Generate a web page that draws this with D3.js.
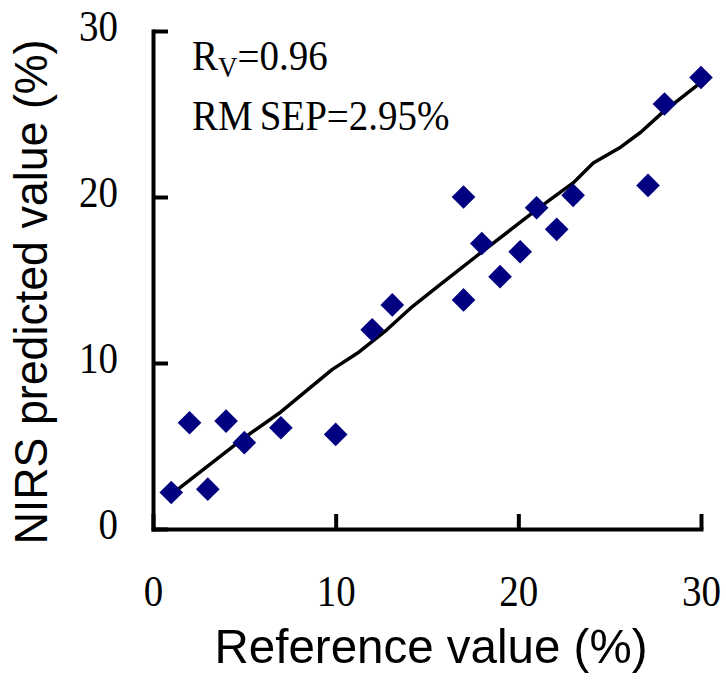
<!DOCTYPE html>
<html>
<head>
<meta charset="utf-8">
<script src="https://cdn.jsdelivr.net/npm/d3@7"></script>
<style>
body { margin: 0; background: #fff; }
.serif { font-family: "Times New Roman", "Liberation Serif", serif; }
.sans { font-family: Arial, "Liberation Sans", sans-serif; }
</style>
</head>
<body>
<svg width="726" height="687"></svg>
<script>
// measured points (reference %, NIRS predicted %)
let refX = [1, 2, 3, 4, 5, 7, 10, 12, 13.1, 17, 17, 18, 19, 20.1, 21, 22.1, 23, 27.1, 28, 30];
let predY = [2.2, 6.4, 2.4, 6.5, 5.2, 6.1, 5.7, 12, 13.5, 20, 13.8, 17.2, 15.2, 16.7, 19.35, 18.05, 20.1, 20.7, 25.6, 27.2];

// fitted line
let fitX = [0.9, 5.0, 7.0, 9.8, 11.2, 12.8, 14.2, 15.7, 17.9, 19.9, 21.2, 23.0, 24.1, 25.6, 26.7, 27.9, 30.0];
let fitY = [2.0, 5.5, 7.05, 9.6, 10.6, 12.0, 13.4, 14.7, 16.6, 18.3, 19.4, 20.85, 22.05, 23.0, 23.9, 25.1, 26.9];

let xTicks = [0, 10, 20, 30];
let yTicks = [0, 10, 20, 30];

let svg = d3.select("svg");

let x = d3.scaleLinear().domain([0, 30]).range([153, 701]);
let y = d3.scaleLinear().domain([0, 30]).range([529, 31]);

// axes, ticks pointing inward
let xAxis = svg.append("g")
    .attr("transform", "translate(0," + y(0) + ")")
    .call(d3.axisBottom(x).tickValues(xTicks).tickSizeInner(-15).tickSizeOuter(0).tickFormat(d3.format("d")));
let yAxis = svg.append("g")
    .attr("transform", "translate(" + x(0) + ",0)")
    .call(d3.axisLeft(y).tickValues(yTicks).tickSizeInner(-15).tickSizeOuter(0).tickFormat(d3.format("d")));

[xAxis, yAxis].forEach(function(ax) {
    ax.select(".domain").attr("stroke", "#000").attr("stroke-width", 4).attr("stroke-linecap", "square");
    ax.selectAll(".tick line").attr("stroke", "#000").attr("stroke-width", 4);
    ax.selectAll(".tick text")
        .attr("class", "serif")
        .attr("font-size", 39)
        .attr("fill", "#000")
        .attr("dy", null)
        .attr("x", 0).attr("y", 0);
});

xAxis.selectAll(".tick text")
    .attr("text-anchor", "middle")
    .attr("transform", "translate(0,77) scale(1,1.15)");
yAxis.selectAll(".tick text")
    .attr("text-anchor", "end")
    .attr("transform", "translate(-35,9) scale(1,1.15)");

// fitted line
let line = d3.line()
    .x(function(d, i) { return x(fitX[i]); })
    .y(function(d, i) { return y(fitY[i]); });

svg.append("path")
    .datum(fitX)
    .attr("d", line)
    .attr("fill", "none")
    .attr("stroke", "#000")
    .attr("stroke-width", 3.5)
    .attr("stroke-linejoin", "round")
    .attr("stroke-linecap", "round");

// diamonds
let diamond = d3.symbol().type(d3.symbolSquare).size(280);
svg.selectAll(".pt")
    .data(refX)
    .enter()
    .append("path")
    .attr("class", "pt")
    .attr("d", diamond)
    .attr("transform", function(d, i) { return "translate(" + x(d) + "," + y(predY[i]) + ") rotate(45)"; })
    .attr("fill", "#000080");

// annotations
let t1 = svg.append("text")
    .attr("class", "serif")
    .attr("font-size", 39)
    .attr("transform", "translate(192,70) scale(1,1.08)");
t1.append("tspan").text("R");
t1.append("tspan").attr("font-size", 27).attr("dy", 6.5).text("V");
t1.append("tspan").attr("dy", -6.5).text("=0.96");

let t2 = svg.append("text")
    .attr("class", "serif")
    .attr("font-size", 39)
    .attr("transform", "translate(192,130) scale(1,1.08)");
t2.append("tspan").text("RM");
t2.append("tspan").attr("dx", 7).text("SEP=2.95%");

// axis titles
svg.append("text")
    .attr("class", "sans")
    .attr("font-size", 49)
    .attr("text-anchor", "middle")
    .attr("x", 431)
    .attr("y", 663)
    .attr("textLength", 433)
    .attr("lengthAdjust", "spacingAndGlyphs")
    .text("Reference value (%)");

svg.append("text")
    .attr("class", "sans")
    .attr("font-size", 47)
    .attr("text-anchor", "middle")
    .attr("transform", "translate(47,292) rotate(-90)")
    .attr("textLength", 505)
    .attr("lengthAdjust", "spacingAndGlyphs")
    .text("NIRS predicted value (%)");
</script>
</body>
</html>
